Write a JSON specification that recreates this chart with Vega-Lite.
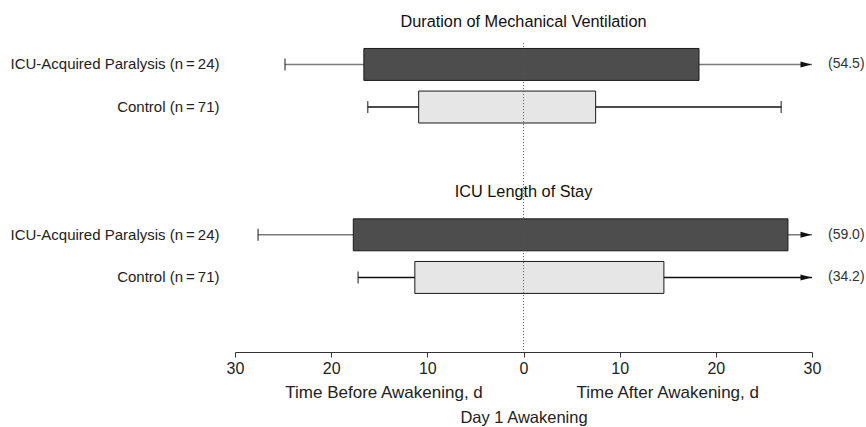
{
  "$schema": "https://vega.github.io/schema/vega-lite/v6.json",
  "width": 577,
  "height": 352,
  "autosize": {"type": "none"},
  "padding": {"left": 235, "top": 0, "right": 54, "bottom": 75},
  "config": {
    "view": {"stroke": null},
    "font": "Liberation Sans",
    "axis": {"grid": false}
  },
  "datasets": {
    "rows": [
      {"row": "dur_icu", "group": "ICU", "lo": -24.8, "q1": -16.6, "q3": 18.25, "hi": 30, "arrow": true, "maxLabel": "(54.5)"},
      {"row": "dur_ctl", "group": "Control", "lo": -16.2, "q1": -10.9, "q3": 7.5, "hi": 26.8, "arrow": false, "maxLabel": ""},
      {"row": "los_icu", "group": "ICU", "lo": -27.6, "q1": -17.7, "q3": 27.5, "hi": 30, "arrow": true, "maxLabel": "(59.0)"},
      {"row": "los_ctl", "group": "Control", "lo": -17.2, "q1": -11.3, "q3": 14.6, "hi": 30, "arrow": true, "maxLabel": "(34.2)"}
    ],
    "titles": [
      {"row": "t1", "title": "Duration of Mechanical Ventilation"},
      {"row": "t2", "title": "ICU Length of Stay"}
    ]
  },
  "layer": [
    {
      "data": {"name": "rows"},
      "mark": {"type": "rule", "strokeWidth": 1.5},
      "encoding": {
        "y": {
          "field": "row", "type": "nominal",
          "scale": {"domain": ["t1", "dur_icu", "dur_ctl", "g1", "t2", "los_icu", "los_ctl"], "paddingInner": 0, "paddingOuter": 0.6315, "align": 0.01},
          "axis": {
            "title": null, "domain": false, "ticks": false, "labelPadding": 16, "labelLimit": 400,
            "labelFontSize": 15, "labelColor": "#222",
            "labelExpr": "(datum.value == 'dur_icu' || datum.value == 'los_icu') ? 'ICU-Acquired Paralysis (n\u2009=\u200924)' : ((datum.value == 'dur_ctl' || datum.value == 'los_ctl') ? 'Control (n\u2009=\u200971)' : '')"
          }
        },
        "x": {
          "field": "lo", "type": "quantitative",
          "scale": {"domain": [-30, 30], "nice": false, "zero": false},
          "axis": {
            "title": "Day 1 Awakening", "titleFontWeight": "normal", "titleFontSize": 16.5, "titleColor": "#222", "titlePadding": 33,
            "values": [-30, -20, -10, 0, 10, 20, 30],
            "labelExpr": "'' + abs(datum.value)",
            "labelFontSize": 16, "labelColor": "#222", "labelPadding": 3,
            "tickSize": 5, "tickColor": "#333", "domainColor": "#333", "labelFlush": false
          }
        },
        "x2": {"field": "hi"},
        "color": {"condition": {"test": "datum.group === 'ICU'", "value": "#7a7a7a"}, "value": "#111"}
      }
    },
    {
      "data": {"name": "rows"},
      "mark": {"type": "tick", "orient": "vertical", "size": 12, "thickness": 1.5, "color": "#222"},
      "encoding": {
        "y": {"field": "row", "type": "nominal"},
        "x": {"field": "lo", "type": "quantitative"}
      }
    },
    {
      "data": {"name": "rows"},
      "transform": [{"filter": "!datum.arrow"}],
      "mark": {"type": "tick", "orient": "vertical", "size": 12, "thickness": 1.5, "color": "#222"},
      "encoding": {
        "y": {"field": "row", "type": "nominal"},
        "x": {"field": "hi", "type": "quantitative"}
      }
    },
    {
      "data": {"name": "rows"},
      "mark": {"type": "bar", "height": {"band": 0.75}, "stroke": "#1a1a1a", "strokeWidth": 1},
      "encoding": {
        "y": {"field": "row", "type": "nominal"},
        "x": {"field": "q1", "type": "quantitative"},
        "x2": {"field": "q3"},
        "fill": {"condition": {"test": "datum.group === 'ICU'", "value": "#4d4d4d"}, "value": "#e6e6e6"}
      }
    },
    {
      "data": {"name": "rows"},
      "transform": [{"filter": "datum.arrow"}],
      "mark": {"type": "point", "shape": "M-1,-0.55L1,0L-1,0.55Z", "size": 121, "filled": true, "opacity": 1, "color": "#111", "xOffset": -6},
      "encoding": {
        "y": {"field": "row", "type": "nominal"},
        "x": {"field": "hi", "type": "quantitative"}
      }
    },
    {
      "data": {"name": "rows"},
      "transform": [{"filter": "datum.arrow"}],
      "mark": {"type": "text", "align": "left", "baseline": "middle", "dx": 16, "fontSize": 14, "color": "#333"},
      "encoding": {
        "y": {"field": "row", "type": "nominal"},
        "x": {"field": "hi", "type": "quantitative"},
        "text": {"field": "maxLabel"}
      }
    },
    {
      "data": {"name": "titles"},
      "mark": {"type": "text", "align": "center", "baseline": "middle", "fontSize": 16.3, "color": "#111"},
      "encoding": {
        "y": {"field": "row", "type": "nominal"},
        "x": {"datum": 0, "type": "quantitative"},
        "text": {"field": "title"}
      }
    },
    {
      "data": {"values": [{}]},
      "mark": {"type": "rule", "strokeDash": [1, 2], "color": "#555", "strokeWidth": 1},
      "encoding": {
        "x": {"datum": 0, "type": "quantitative"},
        "y": {"datum": "dur_icu", "type": "nominal", "bandPosition": 0},
        "y2": {"value": "height"}
      }
    },
    {
      "data": {"values": [{}]},
      "mark": {"type": "text", "align": "center", "baseline": "middle", "dy": 41, "fontSize": 17, "color": "#222"},
      "encoding": {
        "x": {"datum": -14.5, "type": "quantitative"},
        "y": {"value": "height"},
        "text": {"value": "Time Before Awakening, d"}
      }
    },
    {
      "data": {"values": [{}]},
      "mark": {"type": "text", "align": "center", "baseline": "middle", "dy": 41, "fontSize": 17, "color": "#222"},
      "encoding": {
        "x": {"datum": 15, "type": "quantitative"},
        "y": {"value": "height"},
        "text": {"value": "Time After Awakening, d"}
      }
    }
  ]
}
